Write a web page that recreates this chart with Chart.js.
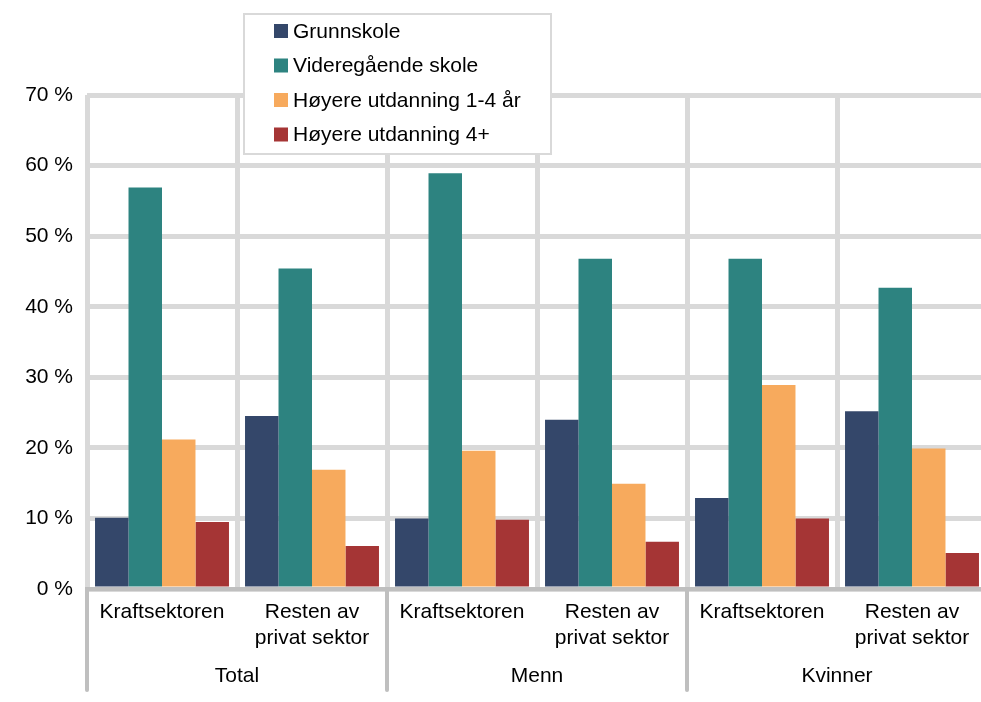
<!DOCTYPE html>
<html>
<head>
<meta charset="utf-8">
<script src="https://cdn.jsdelivr.net/npm/chart.js@4"></script>
<style>
  html, body { margin:0; padding:0; background:#fff; overflow:hidden; }
  #wrap { width:981px; height:702px; overflow:hidden; }
</style>
</head>
<body>
<div id="wrap"><canvas id="chart" width="990" height="702"></canvas></div>
<script>
// Utdanningsnivå, kraftsektoren vs resten av privat sektor
const kategorier = ['Kraftsektoren', ['Resten av', 'privat sektor'], 'Kraftsektoren', ['Resten av', 'privat sektor'], 'Kraftsektoren', ['Resten av', 'privat sektor']];
const grupper = ['Total', 'Menn', 'Kvinner'];

const grunnskole   = [10.1, 24.5, 10.0, 24.0, 12.9, 25.2];
const videregaende = [56.9, 45.4, 58.9, 46.8, 46.8, 42.7];
const hoyere14     = [21.2, 16.9, 19.6, 14.9, 28.9, 19.9];
const hoyere4      = [9.5, 6.1, 9.8, 6.7, 10.0, 5.1];

const yTicks = [0, 10, 20, 30, 40, 50, 60, 70];

const FONT = { family: '"Liberation Sans", Arial, sans-serif', size: 21 };

// egen legende-boks oppå plottet
const legendeBoks = {
  id: 'legendeBoks',
  afterDraw(chart){
    const ctx = chart.ctx;
    ctx.save();
    ctx.fillStyle = '#fff';
    ctx.fillRect(243, 13, 309, 142);
    ctx.strokeStyle = '#d9d9d9';
    ctx.lineWidth = 2;
    ctx.strokeRect(244, 14, 307, 140);
    ctx.font = `${FONT.size}px ${FONT.family}`;
    ctx.textBaseline = 'middle';
    chart.data.datasets.forEach((ds, i) => {
      const y = 31 + i * 34.5;
      ctx.fillStyle = ds.backgroundColor;
      ctx.fillRect(274, y - 7, 14, 14);
      ctx.fillStyle = '#000';
      ctx.fillText(ds.label, 293, y + 1);
    });
    ctx.restore();
  }
};

// skillelinjer mellom gruppene under aksen
const gruppeLinjer = {
  id: 'gruppeLinjer',
  afterDraw(chart){
    const x = chart.scales.x;
    const ctx = chart.ctx;
    const w = (x.getPixelForValue(1) - x.getPixelForValue(0));
    ctx.save();
    ctx.strokeStyle = '#bfbfbf';
    ctx.lineWidth = 4;
    ctx.lineCap = 'round';
    for (let i = 0; i <= kategorier.length; i += 2){
      const px = x.getPixelForValue(0) - w/2 + i*w;
      ctx.beginPath();
      ctx.moveTo(px, chart.chartArea.bottom);
      ctx.lineTo(px, 690);
      ctx.stroke();
    }
    ctx.restore();
  }
};

const ctx = document.getElementById('chart').getContext('2d');
new Chart(ctx, {
  type: 'bar',
  data: {
    labels: kategorier,
    datasets: [
      { label: 'Grunnskole', data: grunnskole, backgroundColor: '#34476a' },
      { label: 'Videregående skole', data: videregaende, backgroundColor: '#2d8380' },
      { label: 'Høyere utdanning 1-4 år', data: hoyere14, backgroundColor: '#f7aa5d' },
      { label: 'Høyere utdanning 4+', data: hoyere4, backgroundColor: '#a53535' }
    ]
  },
  options: {
    responsive: false,
    animation: false,
    categoryPercentage: 0.893,
    barPercentage: 1.0,
    layout: { padding: { top: 95, right: 3, left: 0, bottom: 0 } },
    plugins: { legend: { display: false }, tooltip: { enabled: false } },
    scales: {
      y: {
        min: 0, max: 70,
        afterBuildTicks: (s) => { s.ticks = yTicks.map(v => ({ value: v })); },
        afterFit: (s) => { s.width = 87; },
        ticks: { font: FONT, color: '#000', padding: 14, callback: (v) => v + ' %' },
        grid: { color: '#d9d9d9', lineWidth: 5, drawTicks: false },
        border: { display: false }
      },
      x: {
        afterFit: (s) => { s.height = 70; },
        ticks: { font: FONT, color: '#000', padding: 11, maxRotation: 0, autoSkip: false },
        grid: { offset: true, color: '#d9d9d9', lineWidth: 5, drawTicks: false },
        border: { color: '#bfbfbf', width: 4 }
      },
      x2: {
        type: 'category',
        position: 'bottom',
        labels: grupper,
        afterFit: (s) => { s.height = 43; },
        ticks: { font: FONT, color: '#000', padding: 5, maxRotation: 0 },
        grid: { display: false, drawTicks: false },
        border: { display: false }
      }
    }
  },
  plugins: [legendeBoks, gruppeLinjer]
});
</script>
</body>
</html>
